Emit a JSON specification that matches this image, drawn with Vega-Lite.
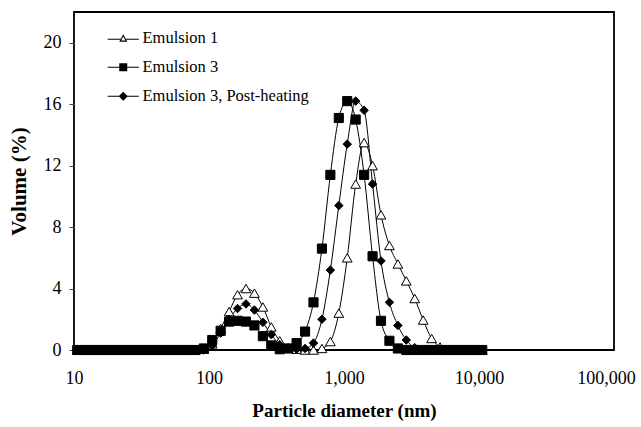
{
  "$schema": "https://vega.github.io/schema/vega-lite/v6.json",
  "width": 540,
  "height": 338,
  "autosize": "none",
  "padding": {"left": 74, "top": 12, "right": 27, "bottom": 77},
  "background": "white",
  "config": {
    "font": "Liberation Serif",
    "view": {"stroke": "black", "strokeWidth": 1.8},
    "axis": {"labelColor": "black", "titleColor": "black", "labelFont": "Liberation Serif", "titleFont": "Liberation Serif", "grid": false, "domain": false}
  },
  "data": {"values": [
    {"series":"Emulsion 1","d":10.57,"v":0},{"series":"Emulsion 1","d":12.2,"v":0},{"series":"Emulsion 1","d":14.09,"v":0},{"series":"Emulsion 1","d":16.27,"v":0},{"series":"Emulsion 1","d":18.79,"v":0},{"series":"Emulsion 1","d":21.7,"v":0},{"series":"Emulsion 1","d":25.06,"v":0},{"series":"Emulsion 1","d":28.94,"v":0},{"series":"Emulsion 1","d":33.42,"v":0},{"series":"Emulsion 1","d":38.59,"v":0},{"series":"Emulsion 1","d":44.57,"v":0},{"series":"Emulsion 1","d":51.46,"v":0},{"series":"Emulsion 1","d":59.43,"v":0},{"series":"Emulsion 1","d":68.63,"v":0},{"series":"Emulsion 1","d":79.25,"v":0},{"series":"Emulsion 1","d":91.52,"v":0.05},{"series":"Emulsion 1","d":105.7,"v":0.4},{"series":"Emulsion 1","d":122,"v":1.4},{"series":"Emulsion 1","d":140.9,"v":2.5},{"series":"Emulsion 1","d":162.7,"v":3.6},{"series":"Emulsion 1","d":187.9,"v":4.0},{"series":"Emulsion 1","d":217,"v":3.7},{"series":"Emulsion 1","d":250.6,"v":2.8},{"series":"Emulsion 1","d":289.4,"v":1.5},{"series":"Emulsion 1","d":334.2,"v":0.6},{"series":"Emulsion 1","d":385.9,"v":0.15},{"series":"Emulsion 1","d":445.7,"v":0.05},{"series":"Emulsion 1","d":514.6,"v":0},{"series":"Emulsion 1","d":594.3,"v":0},{"series":"Emulsion 1","d":686.3,"v":0.1},{"series":"Emulsion 1","d":792.5,"v":0.55},{"series":"Emulsion 1","d":915.2,"v":2.4},{"series":"Emulsion 1","d":1056.8,"v":6.0},{"series":"Emulsion 1","d":1220.4,"v":10.8},{"series":"Emulsion 1","d":1409.3,"v":13.5},{"series":"Emulsion 1","d":1627.5,"v":12.0},{"series":"Emulsion 1","d":1879.3,"v":8.8},{"series":"Emulsion 1","d":2170.2,"v":6.8},{"series":"Emulsion 1","d":2506.1,"v":5.6},{"series":"Emulsion 1","d":2894,"v":4.5},{"series":"Emulsion 1","d":3342,"v":3.35},{"series":"Emulsion 1","d":3859.2,"v":1.95},{"series":"Emulsion 1","d":4456.5,"v":0.75},{"series":"Emulsion 1","d":5146.3,"v":0.2},{"series":"Emulsion 1","d":5942.9,"v":0},{"series":"Emulsion 1","d":6862.7,"v":0},{"series":"Emulsion 1","d":7925,"v":0},{"series":"Emulsion 1","d":9151.7,"v":0},{"series":"Emulsion 1","d":10568,"v":0},
    {"series":"Emulsion 3","d":10.57,"v":0},{"series":"Emulsion 3","d":12.2,"v":0},{"series":"Emulsion 3","d":14.09,"v":0},{"series":"Emulsion 3","d":16.27,"v":0},{"series":"Emulsion 3","d":18.79,"v":0},{"series":"Emulsion 3","d":21.7,"v":0},{"series":"Emulsion 3","d":25.06,"v":0},{"series":"Emulsion 3","d":28.94,"v":0},{"series":"Emulsion 3","d":33.42,"v":0},{"series":"Emulsion 3","d":38.59,"v":0},{"series":"Emulsion 3","d":44.57,"v":0},{"series":"Emulsion 3","d":51.46,"v":0},{"series":"Emulsion 3","d":59.43,"v":0},{"series":"Emulsion 3","d":68.63,"v":0},{"series":"Emulsion 3","d":79.25,"v":0},{"series":"Emulsion 3","d":91.52,"v":0.1},{"series":"Emulsion 3","d":105.7,"v":0.65},{"series":"Emulsion 3","d":122,"v":1.25},{"series":"Emulsion 3","d":140.9,"v":1.85},{"series":"Emulsion 3","d":162.7,"v":1.9},{"series":"Emulsion 3","d":187.9,"v":1.85},{"series":"Emulsion 3","d":217,"v":1.6},{"series":"Emulsion 3","d":250.6,"v":0.9},{"series":"Emulsion 3","d":289.4,"v":0.3},{"series":"Emulsion 3","d":334.2,"v":0.05},{"series":"Emulsion 3","d":385.9,"v":0.1},{"series":"Emulsion 3","d":445.7,"v":0.45},{"series":"Emulsion 3","d":514.6,"v":1.2},{"series":"Emulsion 3","d":594.3,"v":3.1},{"series":"Emulsion 3","d":686.3,"v":6.6},{"series":"Emulsion 3","d":792.5,"v":11.4},{"series":"Emulsion 3","d":915.2,"v":15.1},{"series":"Emulsion 3","d":1056.8,"v":16.2},{"series":"Emulsion 3","d":1220.4,"v":15.0},{"series":"Emulsion 3","d":1409.3,"v":11.4},{"series":"Emulsion 3","d":1627.5,"v":6.1},{"series":"Emulsion 3","d":1879.3,"v":1.9},{"series":"Emulsion 3","d":2170.2,"v":0.6},{"series":"Emulsion 3","d":2506.1,"v":0.1},{"series":"Emulsion 3","d":2894,"v":0},{"series":"Emulsion 3","d":3342,"v":0},{"series":"Emulsion 3","d":3859.2,"v":0},{"series":"Emulsion 3","d":4456.5,"v":0},{"series":"Emulsion 3","d":5146.3,"v":0},{"series":"Emulsion 3","d":5942.9,"v":0},{"series":"Emulsion 3","d":6862.7,"v":0},{"series":"Emulsion 3","d":7925,"v":0},{"series":"Emulsion 3","d":9151.7,"v":0},{"series":"Emulsion 3","d":10568,"v":0},
    {"series":"Emulsion 3, Post-heating","d":10.57,"v":0},{"series":"Emulsion 3, Post-heating","d":12.2,"v":0},{"series":"Emulsion 3, Post-heating","d":14.09,"v":0},{"series":"Emulsion 3, Post-heating","d":16.27,"v":0},{"series":"Emulsion 3, Post-heating","d":18.79,"v":0},{"series":"Emulsion 3, Post-heating","d":21.7,"v":0},{"series":"Emulsion 3, Post-heating","d":25.06,"v":0},{"series":"Emulsion 3, Post-heating","d":28.94,"v":0},{"series":"Emulsion 3, Post-heating","d":33.42,"v":0},{"series":"Emulsion 3, Post-heating","d":38.59,"v":0},{"series":"Emulsion 3, Post-heating","d":44.57,"v":0},{"series":"Emulsion 3, Post-heating","d":51.46,"v":0},{"series":"Emulsion 3, Post-heating","d":59.43,"v":0},{"series":"Emulsion 3, Post-heating","d":68.63,"v":0},{"series":"Emulsion 3, Post-heating","d":79.25,"v":0},{"series":"Emulsion 3, Post-heating","d":91.52,"v":0},{"series":"Emulsion 3, Post-heating","d":105.7,"v":0.3},{"series":"Emulsion 3, Post-heating","d":122,"v":1.1},{"series":"Emulsion 3, Post-heating","d":140.9,"v":2.0},{"series":"Emulsion 3, Post-heating","d":162.7,"v":2.7},{"series":"Emulsion 3, Post-heating","d":187.9,"v":3.0},{"series":"Emulsion 3, Post-heating","d":217,"v":2.6},{"series":"Emulsion 3, Post-heating","d":250.6,"v":1.8},{"series":"Emulsion 3, Post-heating","d":289.4,"v":1.0},{"series":"Emulsion 3, Post-heating","d":334.2,"v":0.35},{"series":"Emulsion 3, Post-heating","d":385.9,"v":0.1},{"series":"Emulsion 3, Post-heating","d":445.7,"v":0.05},{"series":"Emulsion 3, Post-heating","d":514.6,"v":0.1},{"series":"Emulsion 3, Post-heating","d":594.3,"v":0.45},{"series":"Emulsion 3, Post-heating","d":686.3,"v":2.0},{"series":"Emulsion 3, Post-heating","d":792.5,"v":5.2},{"series":"Emulsion 3, Post-heating","d":915.2,"v":9.4},{"series":"Emulsion 3, Post-heating","d":1056.8,"v":13.4},{"series":"Emulsion 3, Post-heating","d":1220.4,"v":16.2},{"series":"Emulsion 3, Post-heating","d":1409.3,"v":15.6},{"series":"Emulsion 3, Post-heating","d":1627.5,"v":10.8},{"series":"Emulsion 3, Post-heating","d":1879.3,"v":5.8},{"series":"Emulsion 3, Post-heating","d":2170.2,"v":3.1},{"series":"Emulsion 3, Post-heating","d":2506.1,"v":1.6},{"series":"Emulsion 3, Post-heating","d":2894,"v":0.65},{"series":"Emulsion 3, Post-heating","d":3342,"v":0.15},{"series":"Emulsion 3, Post-heating","d":3859.2,"v":0},{"series":"Emulsion 3, Post-heating","d":4456.5,"v":0},{"series":"Emulsion 3, Post-heating","d":5146.3,"v":0},{"series":"Emulsion 3, Post-heating","d":5942.9,"v":0},{"series":"Emulsion 3, Post-heating","d":6862.7,"v":0},{"series":"Emulsion 3, Post-heating","d":7925,"v":0},{"series":"Emulsion 3, Post-heating","d":9151.7,"v":0},{"series":"Emulsion 3, Post-heating","d":10568,"v":0}
  ]},
  "encoding": {
    "x": {"field": "d", "type": "quantitative",
      "scale": {"type": "log", "domain": [10, 100000]},
      "axis": {"values": [10, 100, 1000, 10000, 100000], "format": ",", "ticks": false, "labelFlush": false, "labelOverlap": false, "labelBound": false, "labelFontSize": 18, "labelPadding": 19, "title": "Particle diameter (nm)", "titleFontSize": 19, "titleFontWeight": "bold", "titlePadding": 14,
        "labelOffset": {"condition": {"test": "datum.value >= 50000", "value": -8}, "value": 0}}},
    "y": {"field": "v", "type": "quantitative",
      "scale": {"domain": [0, 22], "nice": false},
      "axis": {"values": [0, 4, 8, 12, 16, 20], "tickSize": 5, "tickColor": "#444", "labelFlush": false, "labelFontSize": 18, "labelPadding": 8, "title": "Volume (%)", "titleFontSize": 21, "titleFontWeight": "bold", "titlePadding": 14}}
  },
  "layer": [
    {
      "mark": {"type": "line", "color": "black", "strokeWidth": 1, "interpolate": "monotone"},
      "encoding": {"detail": {"field": "series"}}
    },
    {
      "mark": {"type": "point", "filled": true, "stroke": "black", "strokeWidth": 1, "opacity": 1},
      "encoding": {
        "shape": {"field": "series", "type": "nominal", "scale": {"domain": ["Emulsion 1", "Emulsion 3", "Emulsion 3, Post-heating"], "range": ["triangle-up", "square", "diamond"]}, "legend": null},
        "fill": {"field": "series", "type": "nominal", "scale": {"domain": ["Emulsion 1", "Emulsion 3", "Emulsion 3, Post-heating"], "range": ["white", "black", "black"]}, "legend": null},
        "size": {"field": "series", "type": "nominal", "scale": {"domain": ["Emulsion 1", "Emulsion 3", "Emulsion 3, Post-heating"], "range": [95, 72, 85]}, "legend": null}
      }
    },
    {
      "transform": [{"filter": "false"}],
      "mark": {"type": "point", "filled": true, "color": "black", "opacity": 1},
      "encoding": {
        "shape": {"field": "series", "type": "nominal", "scale": {"domain": ["Emulsion 1", "Emulsion 3", "Emulsion 3, Post-heating"], "range": ["M0,-1L1,0.85L-1,0.85ZM0,-0.41L-0.53,0.57L0.53,0.57ZM-3.9,0.12H-0.62V0.38H-3.9ZM0.62,0.12H3.9V0.38H0.62Z", "M-1,-1H1V1H-1ZM-3.9,-0.13H3.9V0.13H-3.9Z", "M0,-1.15L1.15,0L0,1.15L-1.15,0ZM-3.9,-0.13H3.9V0.13H-3.9Z"]},
          "legend": {"orient": "none", "legendX": 41, "legendY": 18, "title": null, "padding": 0, "symbolSize": 64, "symbolFillColor": "black", "symbolStrokeWidth": 0, "labelFont": "Liberation Serif", "labelFontSize": 16.5, "labelColor": "black", "labelOffset": 11, "rowPadding": 12, "labelLimit": 300,
            "encode": {"symbols": {"update": {"fill": {"value": "black"}, "opacity": {"value": 1}}}}}}
      }
    },
    {
      "data": {"values": [{"label": "B"}]},
      "mark": {"type": "text", "font": "Liberation Serif", "fontSize": 24, "fontWeight": "bold", "color": "black", "align": "center", "baseline": "middle"},
      "encoding": {"text": {"field": "label"}, "x": {"datum": 18.8}, "y": {"datum": 2.27}}
    }
  ],
  "resolve": {"scale": {"shape": "independent", "fill": "independent", "size": "independent"}}
}
